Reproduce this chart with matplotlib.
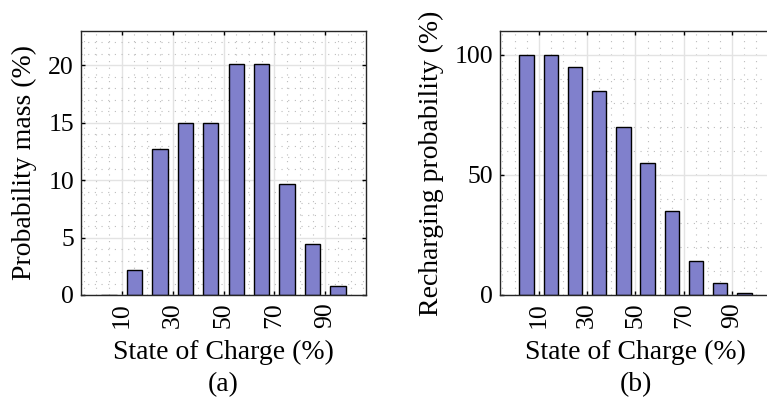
import matplotlib
matplotlib.use("Agg")
import matplotlib.pyplot as plt
from matplotlib.ticker import MultipleLocator

# state of charge bins (bar centres, %)
soc_bins = [5, 15, 25, 35, 45, 55, 65, 75, 85, 95]
# probability mass of arrival SoC (%)
prob_mass = [0, 2.2, 12.7, 15.0, 15.0, 20.1, 20.1, 9.7, 4.4, 0.75]
# recharging probability per SoC bin (%)
recharge_prob = [100, 100, 95, 85, 70, 55, 35, 14, 5, 0.8]
soc_ticks = [10, 30, 50, 70, 90]

plt.rcParams["font.family"] = ["Liberation Serif", "DejaVu Serif"]
plt.rcParams["font.size"] = 20

bar_color = "#8080cc"

fig = plt.figure(figsize=(7.67, 3.99), dpi=100)
ax1 = fig.add_axes([0.1056, 0.2607, 0.3716, 0.6617])
ax2 = fig.add_axes([0.6519, 0.2607, 0.3533, 0.6617])


def style_axes(ax, ymax, ymajor, yminor, ylabel, ylab_x, tag):
    ax.set_xlim(-6, 106)
    ax.set_ylim(0, ymax)
    ax.set_xticks(soc_ticks)
    ax.set_xticklabels([str(t) for t in soc_ticks], rotation=90)
    ax.yaxis.set_major_locator(MultipleLocator(ymajor))
    ax.yaxis.set_minor_locator(MultipleLocator(yminor))
    ax.xaxis.set_minor_locator(MultipleLocator(5))
    ax.tick_params(which="major", direction="in", length=3, width=1,
                   top=True, right=True, pad=5, labelsize=18.5)
    ax.tick_params(which="minor", length=0)
    ax.grid(which="major", color="#e3e3e3", lw=1.0, ls="-")
    ax.grid(which="minor", color="#bdbdbd", lw=0.8, ls=(0, (1, 5)))
    ax.set_axisbelow(True)
    for s in ax.spines.values():
        s.set_color("#262626")
        s.set_linewidth(1.0)
    ax.set_xlabel("State of Charge (%)", va="center")
    ax.xaxis.set_label_coords(0.5, -0.216)
    ax.set_ylabel(ylabel, va="center")
    ax.yaxis.set_label_coords(ylab_x, 0.5)
    pos = ax.get_position()
    fig.text((pos.x0 + pos.x1) / 2, 0.036, tag, ha="center", va="center")


ax1.bar(soc_bins, prob_mass, width=6, color=bar_color, edgecolor="black", lw=1)
style_axes(ax1, 23, 5, 1, "Probability mass (%)", -0.2, "(a)")

ax2.bar(soc_bins, recharge_prob, width=6, color=bar_color, edgecolor="black", lw=1)
style_axes(ax2, 110, 50, 10, "Recharging probability (%)", -0.252, "(b)")

fig.savefig("out.png", dpi=100)
